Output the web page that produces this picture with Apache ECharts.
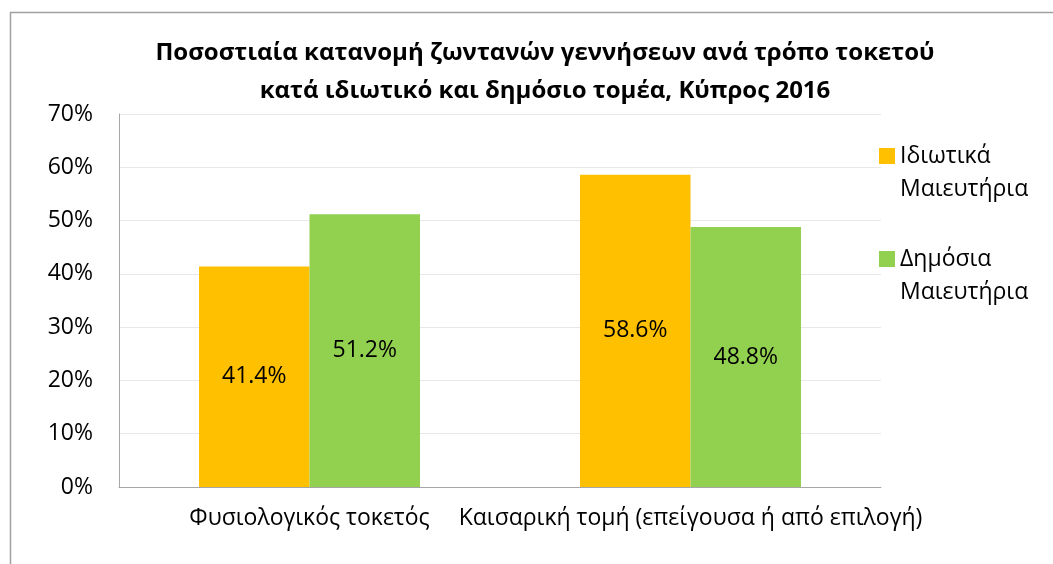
<!DOCTYPE html>
<html>
<head>
<meta charset="utf-8">
<script src="https://cdn.jsdelivr.net/npm/echarts@6/dist/echarts.min.js"></script>
<style>
html,body{margin:0;padding:0;background:#fff;}
#chart{width:1053px;height:564px;}
</style>
</head>
<body>
<div id="chart"></div>
<script>
const titleLines = ['Ποσοστιαία κατανομή ζωντανών γεννήσεων ανά τρόπο τοκετού', 'κατά ιδιωτικό και δημόσιο τομέα, Κύπρος 2016'];
const categories = ['Φυσιολογικός τοκετός', 'Καισαρική τομή (επείγουσα ή από επιλογή)'];
const seriesNames = ['Ιδιωτικά\nΜαιευτήρια', 'Δημόσια\nΜαιευτήρια'];
const privateValues = [41.4, 58.6];
const publicValues = [51.2, 48.8];
const colors = ['#FFC000', '#92D050'];
const yMin = 0, yMax = 70, yInterval = 10;

const FONT = '"Open Sans", "Noto Sans", sans-serif';
const FS = 23;
// legend marker: square aligned with the first text line (tiny corner dots fix the box size)
const legendIcon = 'path://M0,0h0.01v0.01h-0.01z M0,8h16v16h-16z M15.99,65.99h0.01v0.01h-0.01z';
const chart = echarts.init(document.getElementById('chart'), null, {renderer: 'canvas'});
const mkSeries = (name, data, color) => ({
  name: name,
  type: 'bar',
  data: data,
  barGap: '0%',
  barCategoryGap: '42%',
  itemStyle: {color: color},
  label: {
    show: true,
    position: 'inside',
    color: '#000',
    fontFamily: FONT,
    fontSize: FS,
    formatter: p => p.value.toFixed(1) + '%'
  }
});
chart.setOption({
  animation: false,
  backgroundColor: '#fff',
  textStyle: {fontFamily: FONT},
  title: {
    text: titleLines.join('\n'),
    left: 540,
    textAlign: 'center',
    top: 29,
    textStyle: {fontFamily: FONT, fontWeight: 'bold', fontSize: 24, lineHeight: 38, color: '#000'}
  },
  graphic: [{
    type: 'rect',
    shape: {x: 10.5, y: 12.5, width: 1100, height: 600},
    style: {fill: null, stroke: '#a0a0a0', lineWidth: 1.5},
    silent: true
  }],
  legend: {
    orient: 'vertical',
    left: 874,
    top: 135,
    itemWidth: 16,
    itemHeight: 66,
    itemGap: 37,
    icon: legendIcon,
    textStyle: {fontFamily: FONT, fontSize: FS, color: '#000', lineHeight: 33},
    data: seriesNames
  },
  grid: {left: 119, right: 172, top: 114, bottom: 77},
  xAxis: {
    type: 'category',
    data: categories,
    axisLine: {lineStyle: {color: '#a6a6a6', width: 1}},
    axisTick: {show: false},
    axisLabel: {fontFamily: FONT, fontSize: FS, color: '#000', margin: 20, interval: 0}
  },
  yAxis: {
    type: 'value',
    min: yMin, max: yMax, interval: yInterval,
    axisLine: {show: true, lineStyle: {color: '#a6a6a6', width: 1}},
    axisTick: {show: false},
    splitLine: {lineStyle: {color: '#e8e8e8', width: 1}},
    axisLabel: {fontFamily: FONT, fontSize: FS, color: '#000', margin: 26, formatter: v => v + '%'}
  },
  series: [
    mkSeries(seriesNames[0], privateValues, colors[0]),
    mkSeries(seriesNames[1], publicValues, colors[1])
  ]
});
</script>
</body>
</html>
